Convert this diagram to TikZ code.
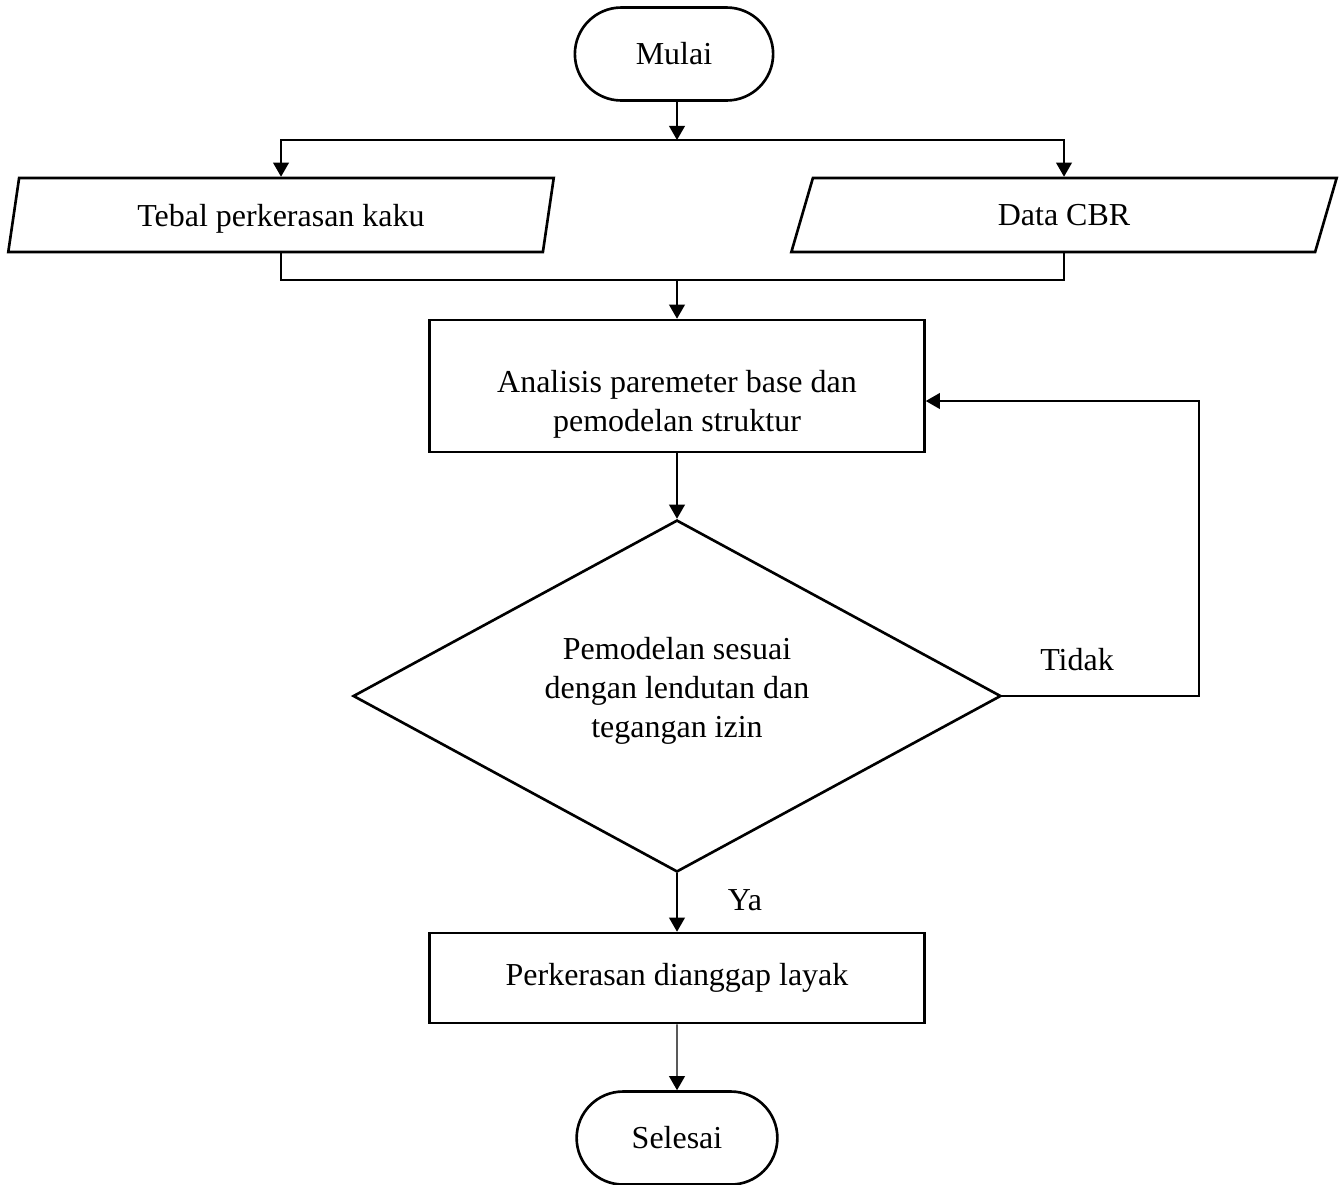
\documentclass[tikz,border=0pt]{standalone}
\usepackage{fontspec}
\setmainfont{Liberation Serif}
\usetikzlibrary{shapes.misc, shapes.geometric, arrows.meta}

\begin{document}
\begin{tikzpicture}[x=0.02cm, y=-0.02cm, >={Triangle[length=8pt,width=9pt]}, line width=0.75pt,
  every node/.style={font=\fontsize{18.2pt}{22.2pt}\selectfont}]

\tikzstyle{terminal} = [draw, shape=rounded rectangle, minimum width=4.2cm, minimum height=1.86cm, line width=1.5pt]
\tikzstyle{io} = [draw, shape=trapezium, trapezium left angle=75, trapezium right angle=105, trapezium stretches=true, minimum width=10.94cm, minimum height=1.48cm, inner sep=0pt, text depth=0pt, line width=1.5pt]
\tikzstyle{block} = [draw, shape=rectangle, minimum width=9.9cm, align=center, line width=1.5pt]
\tikzstyle{decision} = [draw, shape=diamond, aspect=1.84, minimum width=12.96cm, minimum height=7.04cm, inner sep=0pt, align=center, line width=1.5pt]

\useasboundingbox (0,0) rectangle (1344,1184);

%Creating Blocks and Connection Nodes
\node [terminal] at (674,54) (mulai) {Mulai};
\coordinate (fork) at (677,140);
\node [io] at (281,215) (tebal) {Tebal perkerasan kaku};
\node [io] at (1064,215) (cbr) {Data CBR};
\coordinate (join) at (677,280);
\node [block, minimum height=2.64cm, text height=56pt] at (677,386) (analisis) {Analisis paremeter base dan\\pemodelan struktur};
\node [decision, text depth=10pt] at (677,696) (cek) {Pemodelan sesuai\\dengan lendutan dan\\tegangan izin};
\coordinate (balik) at (1199,401);
\node at (1077,660) (tidak) {Tidak};
\node at (745,900) (ya) {Ya};
\node [block, minimum height=1.8cm] at (677,978) (layak) {Perkerasan dianggap layak};
\node [terminal, minimum width=4.25cm] at (677,1138) (selesai) {Selesai};

%Conecting Blocks
\draw[->] (mulai.south -| fork) -- (fork);
\draw[->] (fork) -| (tebal.north);
\draw[->] (fork) -| (cbr.north);
\draw (tebal.south) |- (join) -| (cbr.south);
\draw[->] (join) -- (analisis.north);
\draw[->] (analisis) -- (cek);
\draw[->] (cek.east) -| (balik) -- (analisis.east |- balik);
\draw[->] (cek) -- (layak);
\draw[->] (layak) -- (selesai);

\end{tikzpicture}
\end{document}
